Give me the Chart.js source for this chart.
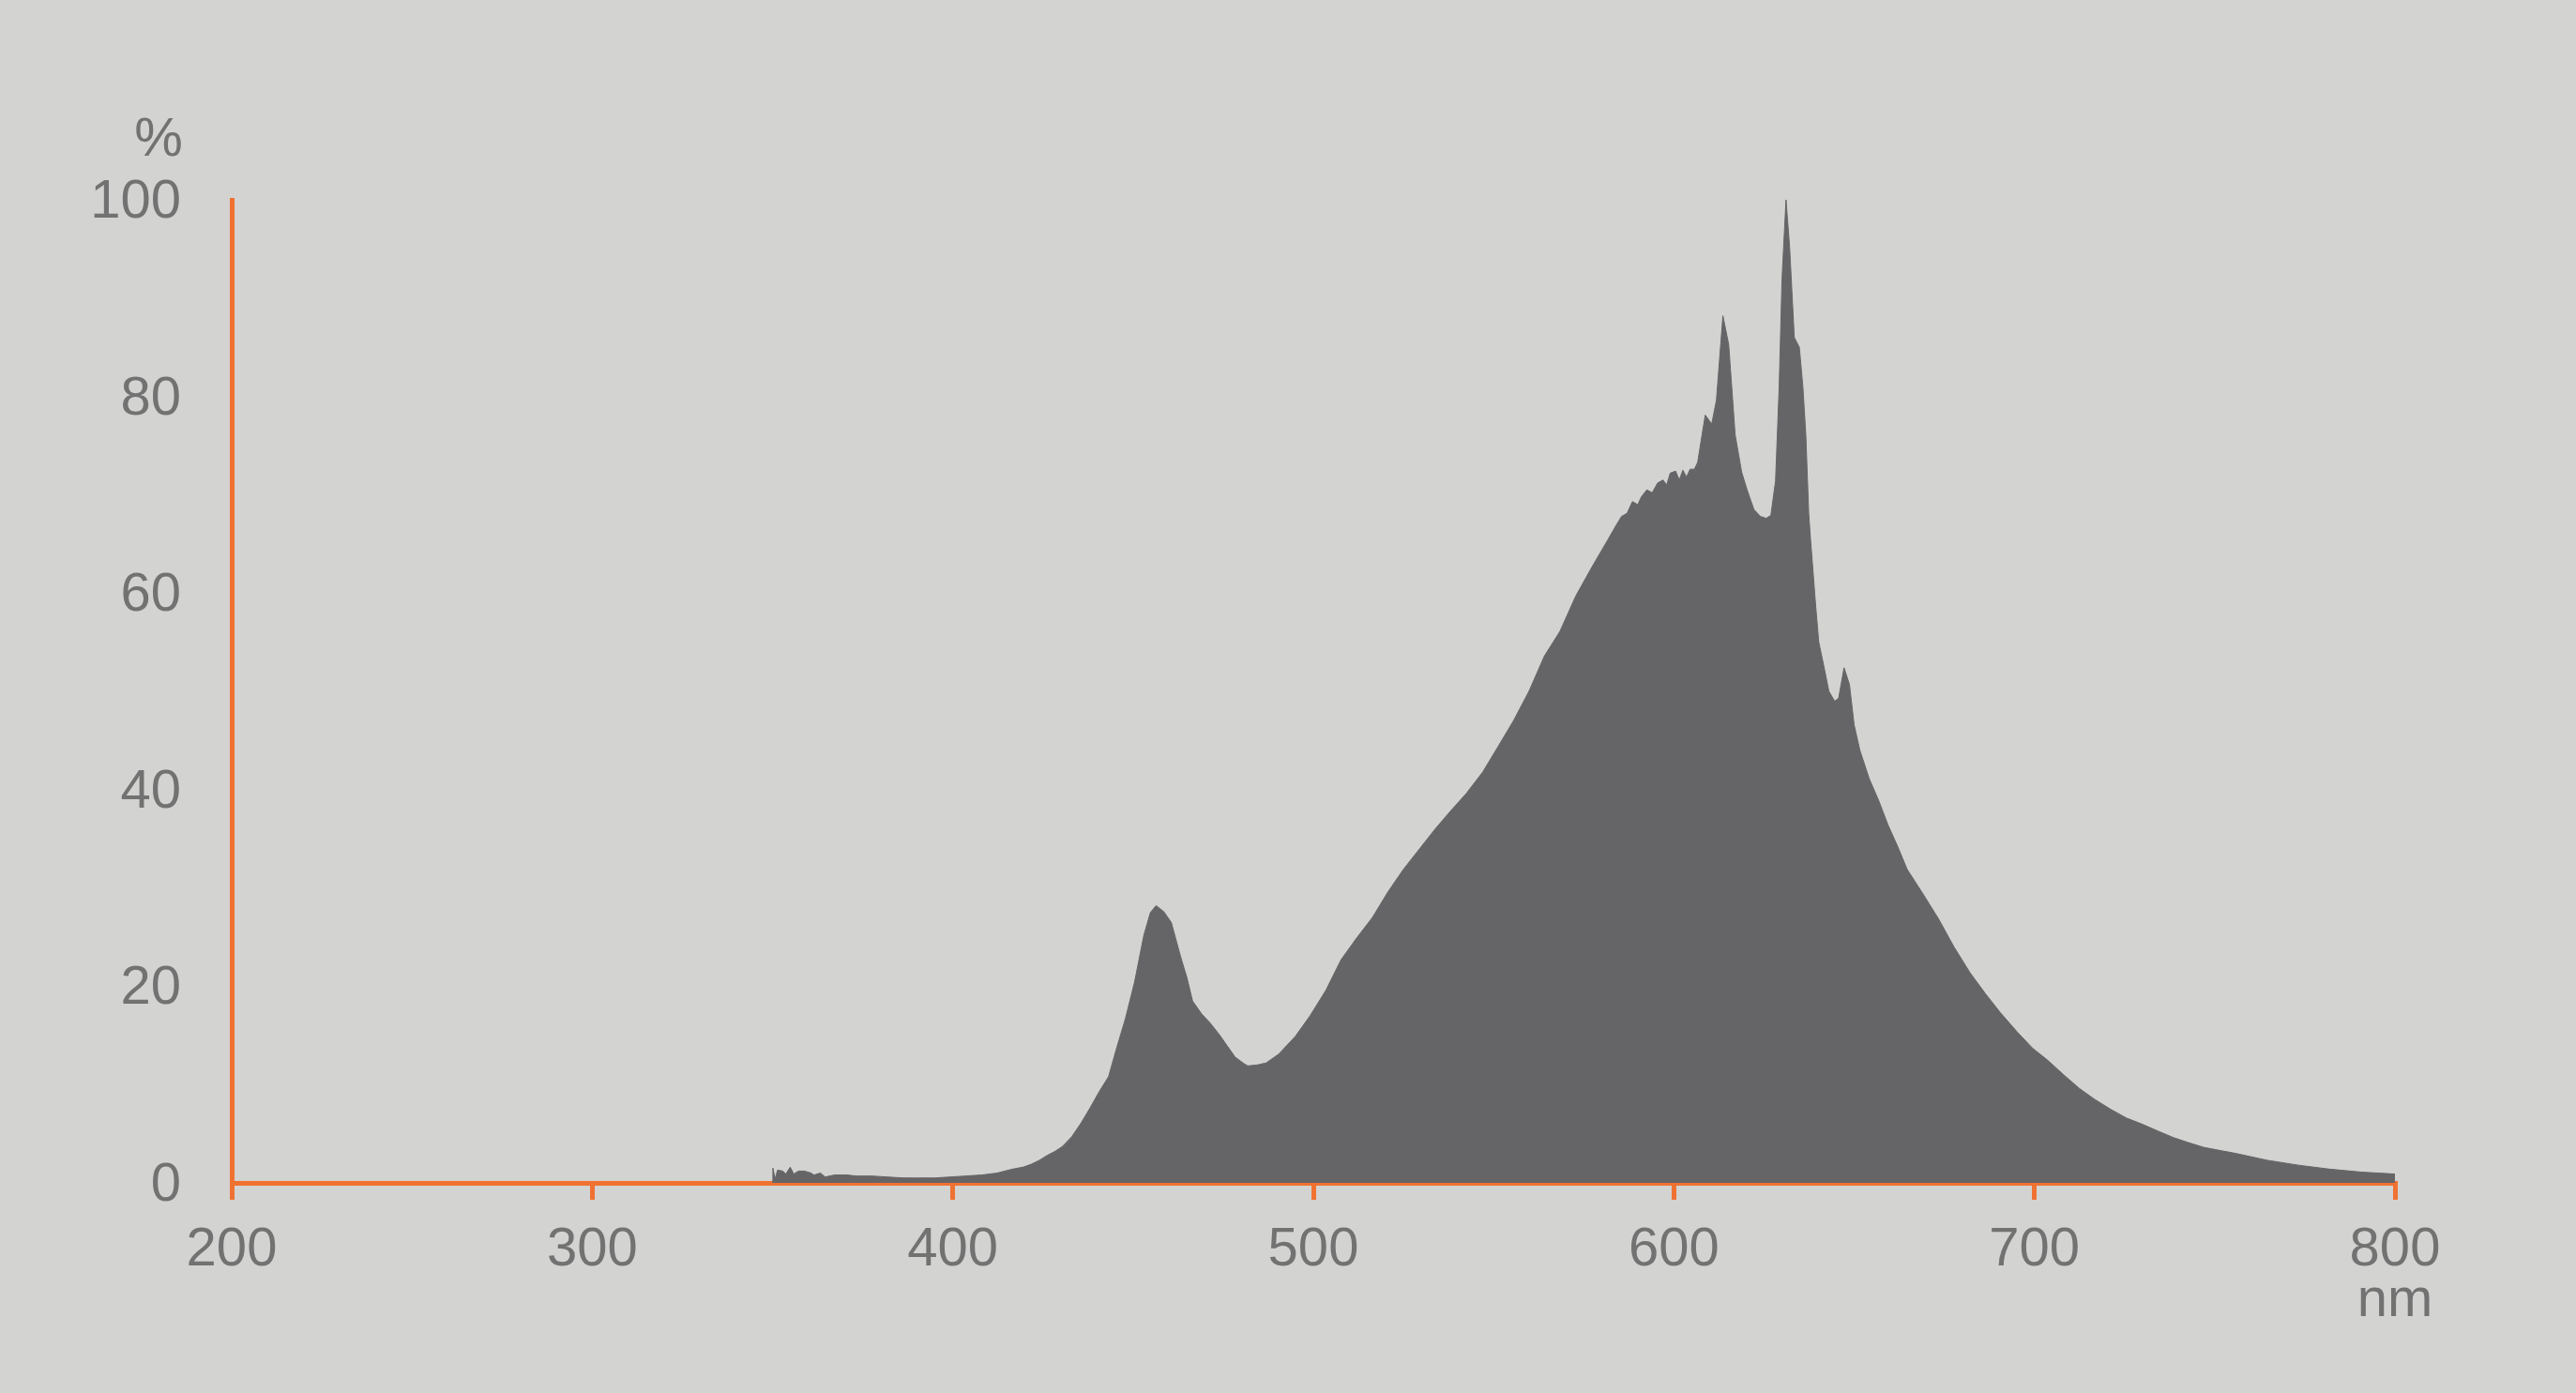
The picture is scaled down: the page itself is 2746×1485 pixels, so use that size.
<!DOCTYPE html>
<html>
<head>
<meta charset="utf-8">
<script src="https://cdn.jsdelivr.net/npm/chart.js@4.4.0/dist/chart.umd.min.js"></script>
<style>
    html, body { margin: 0; padding: 0; background: #d3d3d1; }
    canvas { display: block; }
</style>
</head>
<body>
<canvas id="chart" width="2746" height="1485"></canvas>
<script>
// spectrum: wavelength in nm, relative intensity in %
let wavelength = [
    350, 350.1, 350.7, 351.4, 352.9, 353.7, 354.9, 355.9, 357.2, 358.9, 360.7, 361.5, 363.3, 364.6, 367.2, 370.7, 373.3, 377.6,
    381.9, 386.3, 390.6, 395, 399.3, 403.6, 408, 412.3, 416.6, 419.5, 421.8, 424, 426.2, 428.3, 430.4, 433, 435.6, 438.2, 440.8,
    443.2, 445.5, 447.8, 450.4, 453, 454.8, 456.4, 458.5, 460.6, 463.2, 465, 466.5, 469, 471.3, 473.9, 476, 478.3, 480.5,
    481.8, 484.5, 486.9, 490.4, 495, 499.1, 503.5, 507.7, 512, 516.4, 520.7, 525, 529.5, 533.8, 538, 542.4,
    547, 551.1, 555.5, 559.8, 564.1, 568.4, 572.8, 577.2, 581.5,
    584, 585.5, 587, 588.5, 590, 591, 592.5, 594, 595.5, 597, 598, 599, 600.5, 601.5, 602.5, 603.5, 604.5, 605.7, 606.6,
    608.7, 610.5, 611.8, 613.6, 615.2, 617, 618.8, 620.4, 622.2, 624, 625.6, 626.9, 628.2, 629.2, 630, 631.1, 632.1, 633.4,
    634.8, 635.8, 636.6, 637.4, 637.9, 639.4, 640.2, 641.8, 643, 644.6, 645.7, 647.2, 648.7, 650, 651.6, 654.2, 656.8, 659.4,
    662.1, 664.7, 669.1, 673.5, 677.7, 682.1, 686.5, 690.6, 695.1, 699.5, 703.6, 708.1, 712.5, 716.7, 721.1, 725.5, 729.7,
    734.1, 738.6, 742.7, 747.1, 755.8, 764.6, 773.2, 781.8, 790.6, 800
];
let intensity = [
    0, 1.5, 0.4, 1.3, 1.2, 0.9, 1.6, 0.9, 1.2, 1.2, 1.0, 0.8, 1.0, 0.6, 0.8, 0.8, 0.7, 0.7,
    0.6, 0.5, 0.5, 0.5, 0.6, 0.7, 0.8, 1.0, 1.4, 1.6, 1.9, 2.3, 2.8, 3.2, 3.7, 4.7, 6.1, 7.7, 9.4,
    10.8, 13.8, 16.6, 20.4, 25.2, 27.5, 28.2, 27.6, 26.5, 23.0, 20.8, 18.5, 17.2, 16.3, 15.1, 14.0, 12.8, 12.2,
    11.9, 12.0, 12.2, 13.1, 14.9, 17.0, 19.6, 22.7, 24.9, 27.0, 29.6, 31.9, 34.0, 36.0, 37.8, 39.6,
    41.8, 44.3, 47.0, 50.0, 53.6, 56.1, 59.7, 62.6, 65.3,
    66.9, 67.8, 68.1, 69.3, 69.0, 69.8, 70.5, 70.2, 71.2, 71.5, 71.0, 72.2, 72.4, 71.5, 72.5, 71.8, 72.6, 72.6, 73.3,
    78.1, 77.2, 79.6, 88.2, 85.3, 76.1, 72.3, 70.4, 68.5, 67.8, 67.6, 67.9, 71.4, 80.9, 92.0, 100, 95.2, 86.0,
    85.0, 80.9, 76.1, 68.1, 65.5, 58.4, 55.0, 52.2, 50.0, 49.0, 49.3, 52.4, 50.7, 46.6, 44.0, 41.1, 38.9, 36.4,
    34.2, 31.9, 29.4, 26.8, 24.0, 21.4, 19.2, 17.3, 15.4, 13.7, 12.5, 11.0, 9.6, 8.5, 7.5, 6.6, 6.0,
    5.3, 4.6, 4.1, 3.6, 3.0, 2.3, 1.8, 1.4, 1.1, 0.9
];
let xTicks = [200, 300, 400, 500, 600, 700, 800];
let yTicks = [0, 20, 40, 60, 80, 100];
let yUnit = "%";
let xUnit = "nm";

const orange = "#f07232";
const textGray = "#727272";
const fillGray = "#656567";
const font = "Liberation Sans";

window.onload = function(){
    drawChart();
}

// background + unit labels
const extras = {
    id: "extras",
    beforeDraw(chart){
        let ctx = chart.ctx;
        ctx.save();
        ctx.fillStyle = "#d3d3d1";
        ctx.fillRect(0, 0, chart.width, chart.height);
        ctx.restore();
    },
    afterDraw(chart){
        let ctx = chart.ctx;
        let x = chart.scales.x;
        ctx.save();
        ctx.fillStyle = textGray;
        ctx.font = "58px '" + font + "'";
        ctx.textAlign = "center";
        ctx.textBaseline = "alphabetic";
        ctx.fillText(yUnit, 169, 166);
        ctx.fillText(xUnit, x.getPixelForValue(800), 1403);
        ctx.restore();
    }
};

function drawChart(){
    let points = [];
    for(let i=0;i<wavelength.length;i++){
        points.push({x: wavelength[i], y: intensity[i]});
    }
    const ctx = document.getElementById("chart").getContext("2d");
    new Chart(ctx, {
        type: "line",
        data: {
            datasets: [{
                data: points,
                fill: "origin",
                backgroundColor: fillGray,
                borderColor: fillGray,
                borderWidth: 1,
                pointRadius: 0,
                tension: 0
            }]
        },
        options: {
            responsive: false,
            animation: false,
            devicePixelRatio: 1,
            layout: { padding: { left: 0, right: 193, top: 213, bottom: 0 } },
            plugins: { legend: { display: false }, tooltip: { enabled: false } },
            scales: {
                x: {
                    type: "linear",
                    min: 200,
                    max: 800,
                    z: 1,
                    afterBuildTicks: s => { s.ticks = xTicks.map(v => ({value: v})); },
                    afterFit: s => { s.height = 224; },
                    border: { display: true, color: orange, width: 5 },
                    grid: { display: true, drawOnChartArea: false, drawTicks: true, tickLength: 18, color: orange, lineWidth: 5 },
                    ticks: { color: textGray, font: { family: font, size: 58 }, padding: 19, maxRotation: 0 }
                },
                y: {
                    min: 0,
                    max: 100,
                    z: 1,
                    afterBuildTicks: s => { s.ticks = yTicks.map(v => ({value: v})); },
                    afterFit: s => { s.width = 247; },
                    border: { display: true, color: orange, width: 5 },
                    grid: { display: false, drawTicks: false },
                    ticks: { color: textGray, font: { family: font, size: 58 }, padding: 54, labelOffset: 3 }
                }
            }
        },
        plugins: [extras]
    });
}
</script>
</body>
</html>
